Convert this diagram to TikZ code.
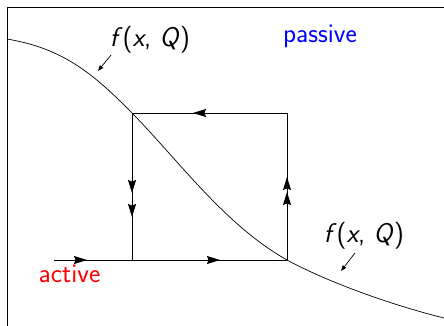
\documentclass[tikz,border=0pt]{standalone}
\usetikzlibrary{arrows.meta,decorations.markings}
\begin{document}
\begin{tikzpicture}[x=1pt,y=-1pt,
  line width=0.8pt,
  smalltip/.style={line width=0.7pt,-{Stealth[length=6pt,width=4.5pt,inset=1pt]}},
  lbl/.style={font=\fontsize{27}{32}\selectfont\sffamily,inner sep=0pt,anchor=base},
  marked/.style 2 args={postaction={decorate},decoration={markings,
     mark=at position #1 with {\arrow{Stealth[length=13pt,width=8pt,inset=1.5pt]}},
     mark=at position #2 with {\arrow{Stealth[length=13pt,width=8pt,inset=1.5pt]}}}},
  markedone/.style={postaction={decorate},decoration={markings,
     mark=at position #1 with {\arrow{Stealth[length=13pt,width=8pt,inset=1.5pt]}}}}
]
\clip (0,0) rectangle (444,325);
\useasboundingbox (0,0) rectangle (444,325);
% frame
\draw (7,340) -- (7,7) -- (460,7);
% corners of the cycle
\coordinate (tl) at (132,113);
\coordinate (tr) at (287,113);
\coordinate (br) at (287,260);
\coordinate (bl) at (132,260);
\coordinate (start) at (54,260);
\coordinate (c0) at (7,39);
\coordinate (c3) at (444,318);
% curve f(x,Q)
\draw[line width=0.7pt] (c0) .. controls (60,48) and (90,70) .. (tl)
  .. controls (180,162) and (225,225) .. (br)
  .. controls (320,278) and (380,302) .. (c3);
% cycle
\draw[markedone=94pt] (tr) -- (tl);
\draw[marked={80pt}{104pt}] (tl) -- (bl);
\draw[marked={68pt}{83pt}] (br) -- (tr);
\draw[marked={33pt}{166pt}] (start) -- (br);
% labels
\node[lbl] (f1) at (150,46) {\textsl{f}(\textsl{x}, \textsl{Q})};
\node[lbl] (f2) at (364,242) {\textsl{f}(\textsl{x}, \textsl{Q})};
\node[lbl,text=blue] (pas) at (320,42) {passive};
\node[lbl,text=red] (act) at (69.5,282.5) {active};
% small pointers
\coordinate (p1s) at (111,55);
\coordinate (p1e) at (98,71);
\coordinate (p2s) at (355,253);
\coordinate (p2e) at (341,271);
\draw[smalltip] (p1s) -- (p1e);
\draw[smalltip] (p2s) -- (p2e);
\end{tikzpicture}
\end{document}
